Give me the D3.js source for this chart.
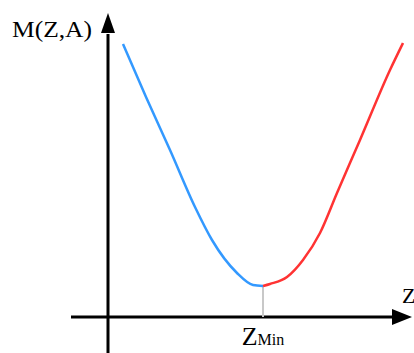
<!DOCTYPE html>
<html>
<head>
<meta charset="utf-8">
<script src="https://cdn.jsdelivr.net/npm/d3@7"></script>
<style>
  html, body { margin: 0; padding: 0; background: #fff; }
  svg { display: block; }
  text { font-family: "Liberation Serif", "Times New Roman", serif; fill: #000; }
</style>
</head>
<body>
<svg id="chart" width="414" height="353"></svg>
<script>
// Left branch of M(Z,A) (Z below the minimum)
const leftZ = [15, 38, 62, 87, 104, 129, 145, 155];
const leftM = [273, 220, 167, 110, 77, 44, 32, 31];
// Right branch of M(Z,A) (Z above the minimum)
const rightZ = [155, 162, 179, 195, 212, 229, 252, 282, 295];
const rightM = [31, 33, 40, 57, 84, 124, 177, 247, 274];
// Position of the minimum
const zMin = 155;
const mMin = 31;
// Axis labels
const yLabel = "M(Z,A)";
const xLabel = "Z";
const minLabelMain = "Z";
const minLabelSub = "Min";

const svg = d3.select("#chart");
const x = d3.scaleLinear().domain([0, 300]).range([108, 408]);
const y = d3.scaleLinear().domain([0, 300]).range([317, 17]);

// Axes with arrow heads
svg.append("line")
  .attr("x1", x(-37)).attr("x2", x(288))
  .attr("y1", y(0)).attr("y2", y(0))
  .attr("stroke", "#000").attr("stroke-width", 3);
svg.append("path")
  .attr("d", `M${x(304)},${y(0)} L${x(284)},${y(0) - 8} L${x(284)},${y(0) + 8} Z`)
  .attr("fill", "#000");

svg.append("line")
  .attr("x1", x(0)).attr("x2", x(0))
  .attr("y1", 353).attr("y2", y(283))
  .attr("stroke", "#000").attr("stroke-width", 3);
svg.append("path")
  .attr("d", `M${x(0)},${y(304)} L${x(0) - 7},${y(284)} L${x(0) + 7},${y(284)} Z`)
  .attr("fill", "#000");

// Drop line from the minimum to the Z axis
svg.append("line")
  .attr("x1", x(zMin)).attr("x2", x(zMin))
  .attr("y1", y(mMin)).attr("y2", y(0))
  .attr("stroke", "#c8c8c8").attr("stroke-width", 2);

const line = d3.line()
  .x(d => x(d[0])).y(d => y(d[1]))
  .curve(d3.curveMonotoneX);

svg.append("path")
  .datum(leftZ.map((z, i) => [z, leftM[i]]))
  .attr("d", line)
  .attr("fill", "none").attr("stroke", "#3399ff").attr("stroke-width", 2.5);

svg.append("path")
  .datum(rightZ.map((z, i) => [z, rightM[i]]))
  .attr("d", line)
  .attr("fill", "none").attr("stroke", "#ff3333").attr("stroke-width", 2.5);

// Labels
svg.append("text")
  .attr("x", 12).attr("y", 37)
  .attr("font-size", 24)
  .attr("textLength", 80)
  .attr("lengthAdjust", "spacingAndGlyphs")
  .text(yLabel);

svg.append("text")
  .attr("x", 402).attr("y", 303)
  .attr("font-size", 22)
  .text(xLabel);

const minText = svg.append("text")
  .attr("x", x(zMin)).attr("y", 345)
  .attr("text-anchor", "middle")
  .attr("font-size", 26);
minText.append("tspan").text(minLabelMain);
minText.append("tspan").attr("font-size", 16).text(minLabelSub);
</script>
</body>
</html>
